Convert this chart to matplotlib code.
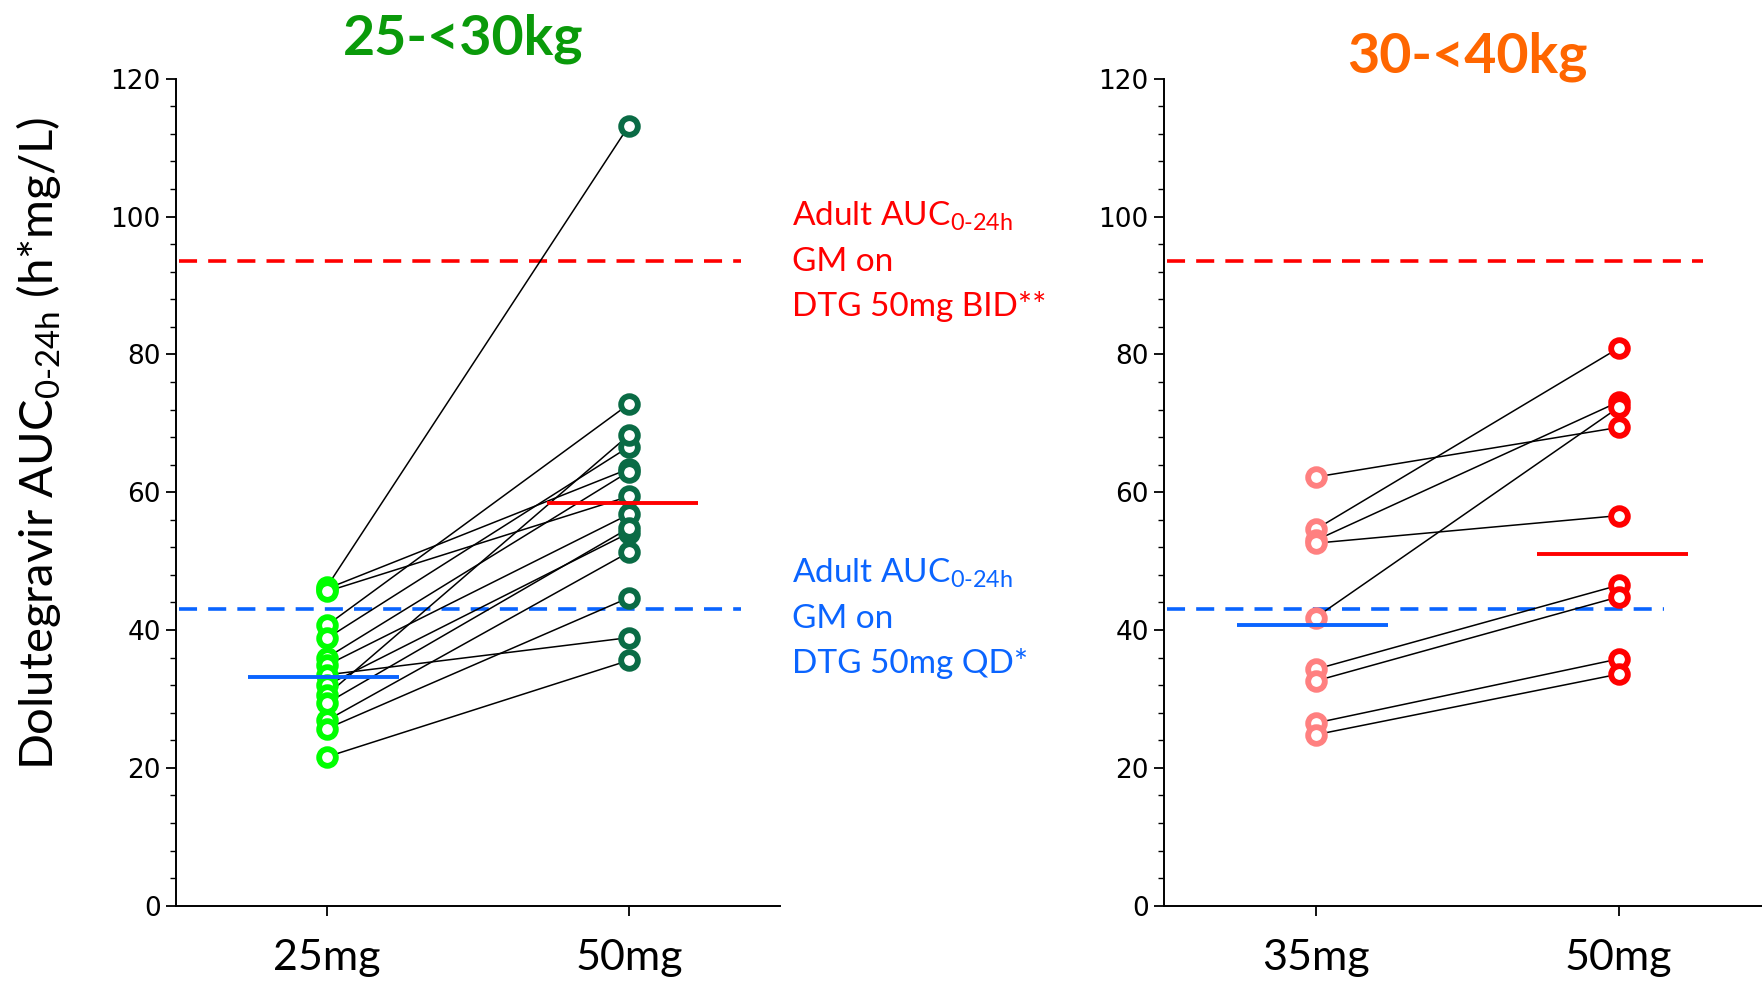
import matplotlib
matplotlib.use("Agg")
import matplotlib.pyplot as plt
from matplotlib.ticker import MultipleLocator

plt.rcParams['mathtext.fontset'] = 'custom'
plt.rcParams['mathtext.rm'] = 'Lato'
plt.rcParams['mathtext.it'] = 'Lato:italic'
plt.rcParams['lines.scale_dashes'] = False

W, H = 1762, 982

# 25-<30kg panel
doses_a = ["25mg", "50mg"]
auc_25mg = [46.3, 46.0, 45.6, 40.7, 38.8, 36.0, 34.9, 33.5, 32.0, 30.6, 29.4, 26.9, 25.7, 21.6]
auc_50mg_a = [113.2, 63.4, 59.4, 72.8, 66.6, 63.0, 56.8, 38.9, 54.1, 68.3, 54.8, 51.3, 44.7, 35.6]
gm_a = [33.2, 58.5]

# 30-<40kg panel
doses_b = ["35mg", "50mg"]
auc_35mg = [62.2, 54.6, 53.0, 52.6, 41.8, 34.3, 32.6, 26.5, 24.8]
auc_50mg_b = [69.4, 80.9, 73.1, 56.6, 72.3, 46.5, 44.8, 35.8, 33.6]
gm_b = [40.8, 51.1]

adult_bid = 93.6
adult_qd = 43.1

RED = "#ff0000"
BLUE = "#0a64ff"


def draw_panel(ax, low, high, gm, c_low, c_high, labels, red_end, blue_end):
    for a, b in zip(low, high):
        ax.plot([1, 2], [a, b], color="black", lw=1.1, zorder=2)
    ax.plot([1] * len(low), low, "o", ls="none", mfc="white", mec=c_low, ms=12, mew=4.2, zorder=3)
    ax.plot([2] * len(high), high, "o", ls="none", mfc="white", mec=c_high, ms=12, mew=4.2, zorder=3)
    ax.plot([0.74, 1.24], [gm[0], gm[0]], color=BLUE, lw=2.8, solid_capstyle="butt", zorder=4)
    ax.plot([1.73, 2.23], [gm[1], gm[1]], color=RED, lw=2.8, solid_capstyle="butt", zorder=4)
    ax.plot([0.51, red_end], [adult_bid, adult_bid], color=RED, lw=2.6, dashes=(13, 8), zorder=1)
    ax.plot([0.51, blue_end], [adult_qd, adult_qd], color=BLUE, lw=2.6, dashes=(13, 8), zorder=1)

    ax.set_xlim(0.5, 2.5)
    ax.set_ylim(0, 120)
    ax.set_xticks([1, 2])
    ax.set_xticklabels(labels, fontfamily="Lato", fontsize=31)
    ax.yaxis.set_major_locator(MultipleLocator(20))
    ax.yaxis.set_minor_locator(MultipleLocator(4))
    ax.tick_params(axis="y", which="major", length=7, width=1.3, labelsize=19, pad=4)
    ax.tick_params(axis="y", which="minor", length=4, width=1.0)
    ax.tick_params(axis="x", length=7, width=1.3, pad=17)
    for s in ("top", "right"):
        ax.spines[s].set_visible(False)
    for s in ("left", "bottom"):
        ax.spines[s].set_linewidth(1.4)


fig = plt.figure(figsize=(W / 100, H / 100), dpi=100)
bottom = 1 - 905.7 / H
height = (905.7 - 78.7) / H
ax1 = fig.add_axes([176 / W, bottom, 604 / W, height])
ax2 = fig.add_axes([1164 / W, bottom, 606 / W, height])

draw_panel(ax1, auc_25mg, auc_50mg_a, gm_a, "#00ff00", "#0a6b45", doses_a, 2.37, 2.37)
draw_panel(ax2, auc_35mg, auc_50mg_b, gm_b, "#ff8080", RED, doses_b, 2.28, 2.15)

fig.text(39 / W, 1 - 443 / H, r"Dolutegravir AUC$_{\text{0-24h}}$ (h*mg/L)", fontfamily="Lato",
         fontsize=34, rotation=90, ha="center", va="center")

fig.text(463 / W, 1 - 55 / H, "25-<30kg", color="#0a9a0a", fontfamily="Lato", fontweight="bold",
         fontsize=40, ha="center", va="baseline")
fig.text(1467 / W, 1 - 73 / H, "30-<40kg", color="#ff6600", fontfamily="Lato", fontweight="bold",
         fontsize=40, ha="center", va="baseline")

red_lines = [r"Adult AUC$_{\text{0-24h}}$", "GM on", "DTG 50mg BID**"]
blue_lines = [r"Adult AUC$_{\text{0-24h}}$", "GM on", "DTG 50mg QD*"]
for i, t in enumerate(red_lines):
    fig.text(792 / W, 1 - (226 + 45 * i) / H, t, color=RED, fontfamily="Lato", fontsize=24, va="baseline")
for i, t in enumerate(blue_lines):
    fig.text(792 / W, 1 - (583 + 45 * i) / H, t, color=BLUE, fontfamily="Lato", fontsize=24, va="baseline")

fig.savefig("out.png", dpi=100)
